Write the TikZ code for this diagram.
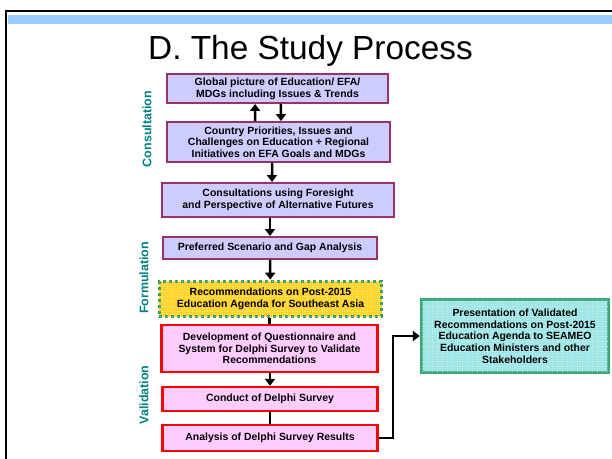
\documentclass[tikz,border=0pt]{standalone}
\usepackage{fontspec}
\setmainfont{Liberation Sans}
\usetikzlibrary{arrows.meta,patterns.meta}
\definecolor{lav}{RGB}{204,204,255}
\definecolor{plum}{RGB}{153,51,102}
\definecolor{rose}{RGB}{255,204,255}
\definecolor{gold}{RGB}{255,212,40}
\definecolor{leaf}{RGB}{51,153,102}
\definecolor{aqua}{RGB}{158,230,230}
\definecolor{sea}{RGB}{60,168,120}
\definecolor{phase}{RGB}{0,128,128}
\definecolor{band}{RGB}{153,204,255}
\tikzset{
  box/.style={draw,line width=2bp,align=center,inner sep=0pt,
    font=\bfseries\fontsize{10.5}{11.7}\selectfont},
  consult/.style={box,draw=plum,fill=lav},
  formul/.style={box,draw=leaf,fill=gold,line width=3bp,dash pattern=on 3bp off 3bp,
    postaction={pattern={Dots[radius=0.35bp,distance=2.5bp]},pattern color=white}},
  valid/.style={box,draw=red,fill=rose,line width=2.5bp},
  present/.style={box,draw=sea,fill=aqua,line width=3bp,
    postaction={pattern={Dots[radius=0.3bp,distance=2.5bp]},pattern color=white}},
  phaselabel/.style={rotate=90,text=phase,font=\bfseries\fontsize{12.5}{14}\selectfont},
  link/.style={line width=2.5bp}
}
\begin{document}
\begin{tikzpicture}[x=1bp,y=-1bp,>={Triangle[length=7bp,width=10bp]}]
\useasboundingbox (0,0) rectangle (612,459);
% slide frame
\fill[band] (8,15.5) rectangle (612,24.5);
\draw[line width=2bp] (6,460) -- (6,11) -- (614,11);
\node[anchor=base,font=\fontsize{33.5}{40}\selectfont] (title) at (310.5,60) {D. The Study Process};
% phase names
\node[phaselabel] (consultation) at (147,129) {Consultation};
\node[phaselabel] (formulation) at (144,278) {Formulation};
\node[phaselabel] (validation) at (144,395) {Validation};
% boxes
\node[consult,minimum width=221,minimum height=29] (global) at (277.5,88.5)
  {Global picture of Education/ EFA/\\MDGs including Issues \& Trends};
\node[consult,minimum width=223,minimum height=40] (country) at (278.5,142)
  {Country Priorities, Issues and\\Challenges on Education + Regional\\Initiatives on EFA Goals and MDGs};
\node[consult,minimum width=232,minimum height=34] (foresight) at (278,200)
  {Consultations using Foresight\\and Perspective of Alternative Futures};
\node[consult,minimum width=214,minimum height=22] (scenario) at (270,248)
  {Preferred Scenario and Gap Analysis};
\node[formul,minimum width=223,minimum height=36] (recomm) at (270.5,299)
  {Recommendations on Post-2015\\Education Agenda for Southeast Asia};
\node[valid,minimum width=217,minimum height=47] (questionnaire) at (269.5,348.5)
  {Development of Questionnaire and\\System for Delphi Survey to Validate\\Recommendations};
\node[valid,minimum width=216,minimum height=24] (conduct) at (270,399)
  {Conduct of Delphi Survey};
\node[valid,minimum width=216,minimum height=26] (analysis) at (270,438)
  {Analysis of Delphi Survey Results};
\node[present,minimum width=188,minimum height=74] (presentation) at (515,336)
  {Presentation of Validated\\Recommendations on Post-2015\\Education Agenda to SEAMEO\\Education Ministers and other\\Stakeholders};
% connectors
\draw[->,link] ([xshift=-23.5]country.north) -- ([xshift=-22.5]global.south);
\draw[->,link] ([xshift=3.5]global.south) -- ([xshift=2.5]country.north);
\draw[->,link] ([xshift=-6.5]country.south) -- ([xshift=-6]foresight.north);
\draw[->,link] (foresight.south -| scenario.north) -- (scenario.north);
\draw[->,link] (scenario) -- (recomm);
\draw[link] (recomm.south -| questionnaire.north) -- (questionnaire.north);
\draw[->,link] (questionnaire.south -| conduct.north) -- (conduct.north);
\draw[link] (conduct) -- (analysis);
\draw[->,link] (analysis.east) -- ++(14,0) |- (presentation.west);
\end{tikzpicture}
\end{document}
